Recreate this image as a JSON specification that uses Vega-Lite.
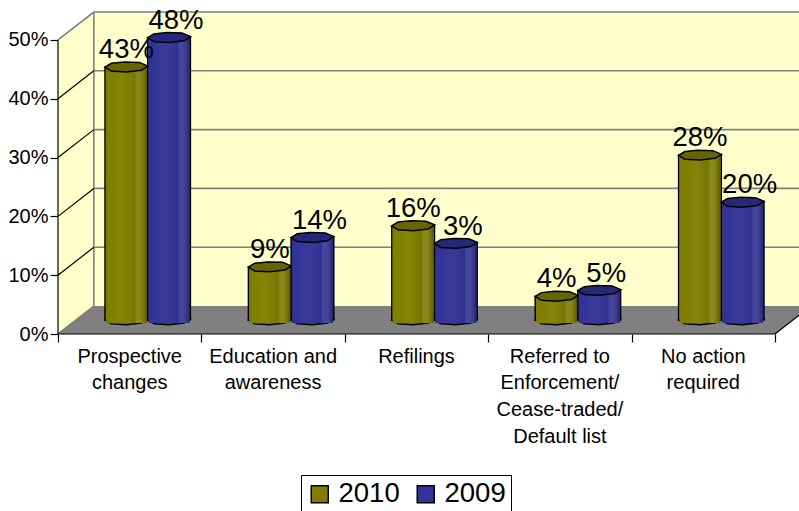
{
"$schema":"https://vega.github.io/schema/vega-lite/v6.json",
"autosize":{"type":"none"},
"padding":{"left":58,"top":12,"right":0,"bottom":177},
"width":741,"height":322,
"background":"white",
"config":{"view":{"stroke":null},"font":"Liberation Sans"},
"datasets":{
"rows":[
{"category":"Prospective changes","year":"2010","value":43,"label":"43%"},
{"category":"Prospective changes","year":"2009","value":48,"label":"48%"},
{"category":"Education and awareness","year":"2010","value":9,"label":"9%"},
{"category":"Education and awareness","year":"2009","value":14,"label":"14%"},
{"category":"Refilings","year":"2010","value":16,"label":"16%"},
{"category":"Refilings","year":"2009","value":13,"label":"3%"},
{"category":"Referred to Enforcement/ Cease-traded/ Default list","year":"2010","value":4,"label":"4%"},
{"category":"Referred to Enforcement/ Cease-traded/ Default list","year":"2009","value":5,"label":"5%"},
{"category":"No action required","year":"2010","value":28,"label":"28%"},
{"category":"No action required","year":"2009","value":20,"label":"20%"}
],
"wall":[
{"u":0,"lo":0,"hi":50},{"u":0.25,"lo":4.76,"hi":54.76},{"u":5.25,"lo":4.76,"hi":54.76}
],
"floor":[
{"u":0,"lo":0,"hi":0},{"u":0.25,"lo":0,"hi":4.76},{"u":5,"lo":0,"hi":4.76},{"u":5.25,"lo":4.76,"hi":4.76}
],
"grey":[
{"g":"g10","u":0.25,"v":14.76},{"g":"g10","u":5.25,"v":14.76},
{"g":"g20","u":0.25,"v":24.76},{"g":"g20","u":5.25,"v":24.76},
{"g":"g30","u":0.25,"v":34.76},{"g":"g30","u":5.25,"v":34.76},
{"g":"g40","u":0.25,"v":44.76},{"g":"g40","u":5.25,"v":44.76},
{"g":"top","u":0,"v":50},{"g":"top","u":0.25,"v":54.76},{"g":"top","u":5.25,"v":54.76},
{"g":"edge","u":0.25,"v":4.76},{"g":"edge","u":0.25,"v":54.76},
{"g":"slant0","u":0,"v":0},{"g":"slant0","u":0.25,"v":4.76}
],
"black":[
{"g":"s10","u":0,"v":10},{"g":"s10","u":0.25,"v":14.76},
{"g":"s20","u":0,"v":20},{"g":"s20","u":0.25,"v":24.76},
{"g":"s30","u":0,"v":30},{"g":"s30","u":0.25,"v":34.76},
{"g":"s40","u":0,"v":40},{"g":"s40","u":0.25,"v":44.76},
{"g":"left","u":0,"v":0},{"g":"left","u":0,"v":50},
{"g":"base","u":0,"v":0},{"g":"base","u":5,"v":0},
{"g":"right","u":5,"v":0},{"g":"right","u":5.25,"v":4.76}
]
},
"layer":[
{
"data":{"name":"wall"},
"mark":{"type":"area","color":"#ffffcc","clip":false},
"encoding":{
"x":{"field":"u","type":"quantitative","scale":{"domain":[0,5.1674],"range":[0,741]},"axis":{"orient":"bottom","values":[0,1,2,3,4,5],"labels":false,"domain":false,"grid":false,"title":null,"tickSize":8,"tickColor":"#000000","tickWidth":1.2}},
"y":{"field":"lo","type":"quantitative","scale":{"domain":[0,54.76],"range":[322,0]},"axis":{"values":[0,10,20,30,40,50],"labelExpr":"datum.value+'%'","domain":false,"grid":false,"title":null,"tickSize":8,"tickColor":"#000000","tickWidth":1.2,"labelFontSize":20,"labelColor":"#000000","labelPadding":2}},
"y2":{"field":"hi"}
}
},
{
"data":{"name":"floor"},
"mark":{"type":"area","color":"#808080"},
"encoding":{
"x":{"field":"u","type":"quantitative","scale":{"domain":[0,5.1674],"range":[0,741]},"axis":null},
"y":{"field":"lo","type":"quantitative","scale":{"domain":[0,54.76],"range":[322,0]},"axis":null},
"y2":{"field":"hi"}
}
},
{
"data":{"name":"grey"},
"mark":{"type":"line","color":"#7f7f7f","strokeWidth":1.6},
"encoding":{
"x":{"field":"u","type":"quantitative","scale":{"domain":[0,5.1674],"range":[0,741]},"axis":null},
"y":{"field":"v","type":"quantitative","scale":{"domain":[0,54.76],"range":[322,0]},"axis":null},
"detail":{"field":"g"},
"order":{"field":"u"}
}
},
{
"data":{"name":"black"},
"mark":{"type":"line","color":"#000000","strokeWidth":1.2},
"encoding":{
"x":{"field":"u","type":"quantitative","scale":{"domain":[0,5.1674],"range":[0,741]},"axis":null},
"y":{"field":"v","type":"quantitative","scale":{"domain":[0,54.76],"range":[322,0]},"axis":null},
"detail":{"field":"g"}
}
},
{
"data":{"name":"rows"},
"mark":{"type":"rule","opacity":0},
"encoding":{
"x":{"field":"category","type":"nominal","sort":null,"scale":{"type":"band","range":[0,717],"paddingInner":0,"paddingOuter":0},
"axis":{"orient":"bottom","title":null,"ticks":false,"domain":false,"labelAngle":0,"labelFontSize":20,"labelColor":"#000000","labelPadding":12,"labelLineHeight":26.7,"labelBaseline":"top","labelLimit":0,"labelOverlap":false,
"labelExpr":"datum.label=='Prospective changes'?['Prospective','changes']:datum.label=='Education and awareness'?['Education and','awareness']:datum.label=='No action required'?['No action','required']:datum.label=='Refilings'?'Refilings':['Referred to','Enforcement/','Cease-traded/','Default list']"}}
}
},
{
"data":{"name":"rows"},
"encoding":{
"x":{"field":"category","type":"nominal","sort":null,"scale":{"type":"band","range":[18,735],"paddingInner":0,"paddingOuter":0},"axis":null},
"xOffset":{"field":"year","type":"nominal","sort":["2010","2009"],"scale":{"domain":["2010","2009"],"paddingInner":0,"paddingOuter":0.68}},
"y":{"field":"value","type":"quantitative","scale":{"domain":[-2.38,52.38],"range":[322,0]},"axis":null},
"color":{"field":"year","type":"nominal","sort":["2010","2009"],"scale":{"domain":["2010","2009"],"range":["#808000","#333399"]},
"legend":{"title":null,"orient":"none","legendX":243,"legendY":463,"direction":"horizontal","columns":2,"columnPadding":12,"symbolType":"square","symbolSize":289,"symbolStrokeColor":"#000000","symbolStrokeWidth":1.5,"labelFontSize":27.5,"labelColor":"#000000","labelOffset":5,"strokeColor":"#000000","padding":5,"fillColor":"#ffffff"}}
},
"layer":[
{"mark":{"type":"point","filled":true,"size":1849,"stroke":"#000000","strokeWidth":1.5,"shape":"M-1,0 L-0.7,-0.18 L-0.1,-0.24 L0.6,-0.22 L1,-0.05 L0.7,0.14 L0,0.22 L-0.7,0.18 Z","opacity":1},"encoding":{"y":{"datum":0}}},
{"mark":{"type":"bar","stroke":"#000000","strokeWidth":1.5}},
{"mark":{"type":"bar","width":41},"encoding":{"y2":{"datum":-0.5}}},
{"mark":{"type":"bar","width":41,"fill":{"gradient":"linear","x1":0,"y1":0,"x2":1,"y2":0,"stops":[{"offset":0,"color":"rgba(0,0,0,0.02)"},{"offset":0.35,"color":"rgba(255,255,255,0.03)"},{"offset":0.7,"color":"rgba(0,0,0,0.08)"},{"offset":0.75,"color":"rgba(255,255,255,0.08)"},{"offset":1,"color":"rgba(0,0,0,0.3)"}]}},"encoding":{"color":{"value":null},"y2":{"datum":-0.5}}},
{"mark":{"type":"point","filled":true,"size":1849,"stroke":"#000000","strokeWidth":1.5,"shape":"M-1,0 L-0.7,-0.18 L-0.1,-0.24 L0.6,-0.22 L1,-0.05 L0.7,0.14 L0,0.22 L-0.7,0.18 Z","opacity":1}},
{"mark":{"type":"point","filled":true,"size":1849,"strokeWidth":0,"fill":"#000000","opacity":0.2,"shape":"M-1,0 L-0.7,-0.18 L-0.1,-0.24 L0.6,-0.22 L1,-0.05 L0.7,0.14 L0,0.22 L-0.7,0.18 Z"},"encoding":{"color":{"value":"#000000"}}},
{"transform":[{"filter":"datum.year=='2010'"}],"mark":{"type":"text","fontSize":27.5,"baseline":"alphabetic","dy":-9,"dx":0,"fill":"#000000"},"encoding":{"text":{"field":"label"},"color":{"value":"#000000"}}},
{"transform":[{"filter":"datum.year=='2009'"}],"mark":{"type":"text","fontSize":27.5,"baseline":"alphabetic","dy":-9,"dx":7,"fill":"#000000"},"encoding":{"text":{"field":"label"},"color":{"value":"#000000"}}}
]
}
],
"resolve":{"scale":{"x":"independent","y":"independent"},"axis":{"x":"independent","y":"independent"}}
}
